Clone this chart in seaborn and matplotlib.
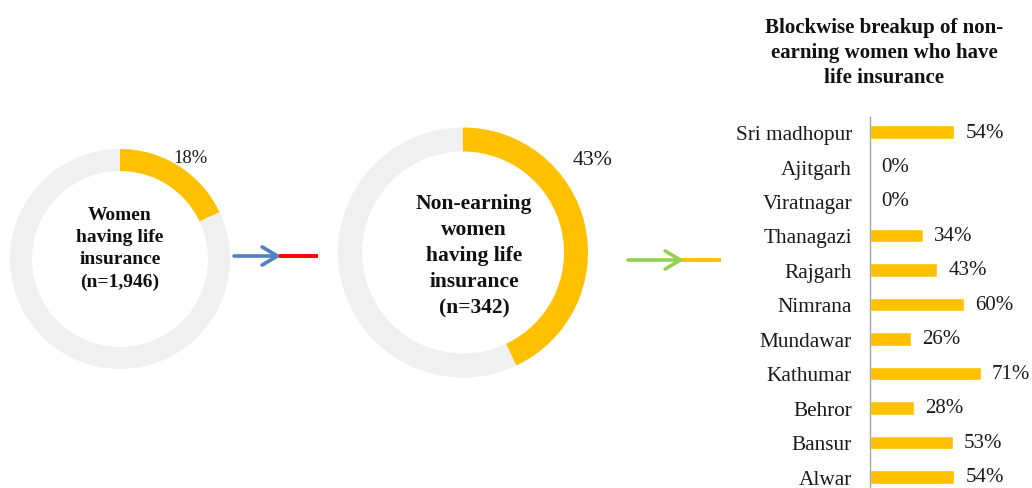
import matplotlib
matplotlib.use("Agg")
import matplotlib.pyplot as plt
import seaborn as sns
import pandas as pd

# Overall shares (percent)
all_women_pct = 18
non_earning_pct = 43
all_women_label = "Women\nhaving life\ninsurance\n(n=1,946)"
non_earning_label = "Non-earning\nwomen\nhaving life\ninsurance\n(n=342)"

# Block-wise breakup of non-earning women with life insurance
blocks = ["Sri madhopur", "Ajitgarh", "Viratnagar", "Thanagazi", "Rajgarh",
          "Nimrana", "Mundawar", "Kathumar", "Behror", "Bansur", "Alwar"]
block_pct = [54, 0, 0, 34, 43, 60, 26, 71, 28, 53, 54]
bar_title = "Blockwise breakup of non-\nearning women who have\nlife insurance"

GOLD = "#FFC000"
RING = "#F0F0F0"
SERIF = "Liberation Serif"

sns.set_style("white")
plt.rcParams["font.family"] = [SERIF, "DejaVu Serif"]

W, H = 1032, 489
fig = plt.figure(figsize=(W / 100, H / 100), dpi=100)

# Pixel-space canvas for the donuts and connecting arrows
canvas = fig.add_axes([0, 0, 1, 1])
canvas.set_xlim(0, W)
canvas.set_ylim(0, H)
canvas.set_aspect("equal")
canvas.axis("off")


def py(y):
    return H - y


def donut(cx, cy, r, ring, pct):
    canvas.pie([pct, 100 - pct], colors=[GOLD, RING], startangle=90,
               counterclock=False, radius=r, center=(cx, py(cy)),
               wedgeprops=dict(width=ring, linewidth=0), frame=True)


donut(120, 260, 110, 22, all_women_pct)
donut(463, 253.5, 125, 24, non_earning_pct)
canvas.set_xlim(0, W)
canvas.set_ylim(0, H)
canvas.axis("off")

canvas.text(190, py(159), f"{all_women_pct}%", ha="center", va="center",
            fontsize=13.4, color="#1a1a1a")
canvas.text(593, py(161), f"{non_earning_pct}%", ha="center", va="center",
            fontsize=15.7, color="#1a1a1a")

canvas.text(120, py(249), all_women_label, ha="center", va="center",
            fontsize=14, fontweight="bold", linespacing=1.4, color="#111111")
canvas.text(474, py(256), non_earning_label, ha="center", va="center",
            fontsize=15.5, fontweight="bold", linespacing=1.4, color="#111111")


def arrow(x0, x1, x2, y, c1, c2):
    canvas.plot([x1 - 2, x2], [py(y), py(y)], color=c2, lw=2.8,
                solid_capstyle="butt")
    canvas.annotate("", xy=(x1, py(y)), xytext=(x0, py(y)),
                    arrowprops=dict(arrowstyle="->,head_length=1.1,head_width=0.65",
                                    color=c1, lw=2.6, shrinkA=0, shrinkB=0))


arrow(234, 281, 318, 257, "#4F81BD", "#FF0000")
arrow(628, 684, 721, 261, "#92D050", GOLD)

# Horizontal bar chart of the blocks
x_left = 870 / W
ax = fig.add_axes([x_left, 0, 156.3 / W, (H - 118) / H])
df = pd.DataFrame({"block": blocks, "pct": block_pct})
sns.barplot(data=df, x="pct", y="block", orient="h", color=GOLD,
            saturation=1, width=0.4, ax=ax)
ax.set_xlim(0, 100)
ax.set_ylim(10.32, -0.435)
ax.set_xlabel("")
ax.set_ylabel("")
ax.set_xticks([])
ax.tick_params(axis="y", length=0, pad=13, labelsize=15.3, labelcolor="#1a1a1a")
for side in ("top", "right", "bottom"):
    ax.spines[side].set_visible(False)
ax.spines["left"].set_color("#A6A6A6")
ax.spines["left"].set_linewidth(1.0)
ax.patch.set_alpha(0)
for c in ax.containers:
    ax.bar_label(c, labels=[f"{v}%" for v in block_pct], padding=8,
                 fontsize=15, color="#1a1a1a", clip_on=False)

fig.text(884 / W, 1 - 53 / H, bar_title, ha="center", va="center",
         fontsize=15, fontweight="bold", linespacing=1.32, color="#111111")

fig.savefig("out.png", dpi=100)
